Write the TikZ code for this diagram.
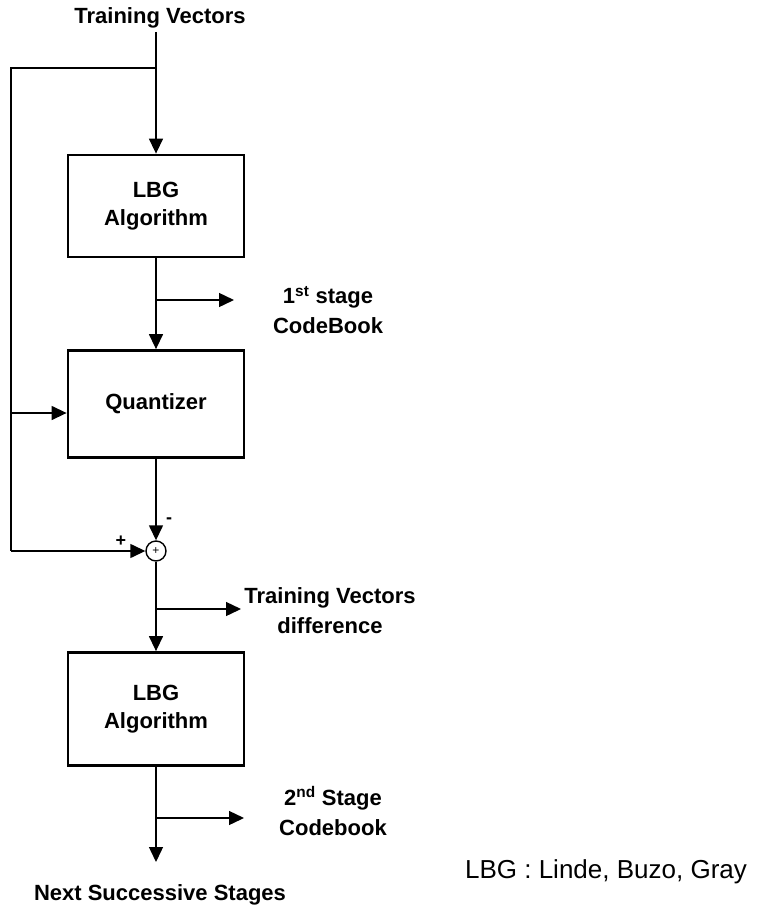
\documentclass[tikz,border=0pt]{standalone}
\usepackage{fontspec}
\setmainfont{Liberation Sans}
\usetikzlibrary{arrows.meta}

\tikzset{
  blk/.style={draw,line width=2.8pt,minimum width=176pt,align=center,
    font=\bfseries\fontsize{22}{28}\selectfont},
  lbl/.style={align=center,font=\bfseries\fontsize{22}{30}\selectfont},
  wire/.style={line width=1.4pt},
  sig/.style={wire,-{Triangle[length=15pt,width=14pt]}}
}

\begin{document}
\begin{tikzpicture}[x=1pt,y=-1pt]
  \useasboundingbox (0,0) rectangle (762,913);

  \draw (160,18) node[lbl] (train) {Training Vectors};
  \draw (156,206) node[blk,minimum height=102pt] (lbg1) {LBG\\Algorithm};
  \draw (156,404) node[blk,minimum height=107pt] (quant) {Quantizer};
  \draw (156,551) node[circle,draw,wire,minimum size=20pt,inner sep=0pt] (sum) {\fontsize{12}{12}\selectfont +};
  \draw (156,709) node[blk,minimum height=113pt] (lbg2) {LBG\\Algorithm};

  \draw (328,310) node[lbl] (cb1) {1\textsuperscript{st} stage\\CodeBook};
  \draw (330,611) node[lbl] (diff) {Training Vectors\\difference};
  \draw (333,811) node[lbl] (cb2) {2\textsuperscript{nd} Stage\\Codebook};
  \draw (160,895) node[lbl] (next) {Next Successive Stages};
  \draw (606,872) node[font=\fontsize{26}{30}\selectfont] (key) {LBG : Linde, Buzo, Gray};

  \draw (121,541) node[font=\bfseries\fontsize{18}{18}\selectfont] (plus) {+};
  \draw (169,521) node[font=\bfseries\fontsize{18}{18}\selectfont] (minus) {-};

  % feed forward / feedback lines
  \coordinate (split) at (156,68);
  \coordinate (ltop) at (11,68);
  \coordinate (lq) at (11,413);
  \coordinate (lsum) at (11,551);
  \coordinate (tap1) at (156,300);
  \coordinate (tap2) at (156,609);
  \coordinate (tap3) at (156,818);
  \coordinate (stop) at (156,862);

  \draw[sig] (train.south -| lbg1.north) -- (lbg1.north);
  \draw[wire] (split) -- (ltop) -- (lsum);
  \draw[sig] (lq) -- (lq -| quant.west);
  \draw[sig] (lsum) -- (sum.west);
  \draw[sig] (lbg1) -- (quant);
  \draw[sig] (tap1) -- ++(78,0);
  \draw[sig] (quant) -- (sum);
  \draw[sig] (sum) -- (lbg2);
  \draw[sig] (tap2) -- ++(85,0);
  \draw[sig] (lbg2) -- (stop);
  \draw[sig] (tap3) -- ++(88,0);
\end{tikzpicture}
\end{document}
